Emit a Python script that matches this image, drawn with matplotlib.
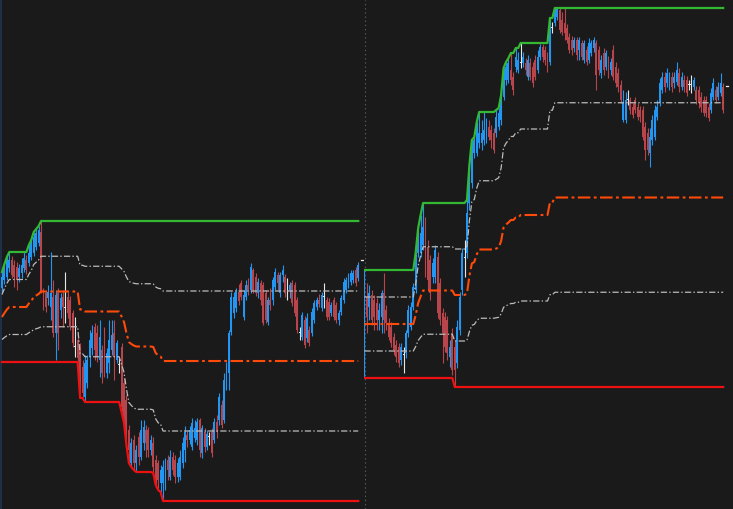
import numpy as np
import matplotlib
matplotlib.use('Agg')
import matplotlib.pyplot as plt
from matplotlib.lines import Line2D

plt.rcParams['lines.scale_dashes'] = False

BG = '#1a1a1a'
UP = '#2196f3'
DOWN = '#b8454b'
DOJI = '#e6e6e6'

# bars as (open, high, low, close)
left_bars = [
    (222, 238, 218, 233), (230, 246, 226, 243), (233, 253, 230, 250), (242, 258, 238, 250),
    (250, 254, 232, 235), (245, 250, 223, 233), (243, 248, 220, 230), (233, 246, 228, 242),
    (237, 252, 232, 245), (242, 258, 238, 252), (250, 255, 236, 240), (247, 265, 244, 257),
    (253, 270, 250, 267), (257, 278, 254, 273), (263, 281, 260, 277), (267, 284, 264, 280),
    (278, 289, 217, 218), (218, 222, 200, 210), (217, 220, 198, 203), (212, 225, 205, 218),
    (203, 258, 190, 217), (213, 230, 173, 177), (177, 220, 150, 215), (217, 222, 160, 177),
    (200, 217, 192, 212), (213, 220, 183, 203), (202, 238, 187, 202), (213, 218, 192, 197),
    (210, 214, 180, 183), (197, 200, 163, 167), (163, 193, 153, 163), (170, 175, 148, 152),
    (163, 167, 112, 120), (143, 150, 113, 117), (113, 155, 108, 147), (127, 155, 122, 150),
    (153, 180, 143, 170), (162, 185, 155, 177), (183, 187, 150, 160), (177, 185, 148, 153),
    (150, 190, 133, 173), (160, 165, 127, 137), (153, 183, 133, 143), (137, 162, 132, 157),
    (147, 190, 137, 170), (160, 190, 155, 175), (177, 190, 130, 153), (150, 170, 147, 167),
    (145, 152, 137, 145), (163, 167, 98, 103), (127, 132, 87, 93), (110, 115, 65, 73),
    (80, 85, 47, 60), (47, 72, 43, 67), (70, 75, 40, 47), (47, 65, 38, 60),
    (73, 78, 45, 53), (53, 90, 50, 80), (67, 90, 60, 83), (80, 85, 53, 67),
    (80, 83, 53, 60), (60, 75, 55, 70), (67, 73, 37, 43), (50, 55, 25, 30),
    (47, 50, 20, 30), (27, 45, 18, 40), (27, 50, 9, 43), (30, 52, 20, 47),
    (50, 55, 30, 40), (33, 60, 30, 53), (53, 58, 35, 40), (50, 55, 27, 33),
    (33, 52, 28, 47), (33, 60, 30, 53), (47, 73, 42, 67), (60, 84, 48, 78),
    (75, 79, 63, 70), (70, 84, 66, 80), (63, 92, 60, 87), (72, 90, 68, 82),
    (70, 92, 65, 88), (90, 92, 53, 60), (57, 85, 52, 82), (78, 82, 58, 63),
    (63, 80, 60, 76), (73, 78, 65, 73), (78, 82, 53, 57), (70, 92, 67, 88),
    (88, 95, 72, 78), (90, 117, 85, 113), (105, 110, 82, 85), (90, 137, 87, 130),
    (123, 148, 120, 143), (137, 180, 120, 177), (178, 218, 175, 213), (197, 218, 192, 213),
    (202, 222, 198, 218), (218, 226, 205, 209), (227, 230, 210, 213), (193, 220, 190, 215),
    (213, 230, 210, 225), (225, 232, 215, 220), (220, 247, 217, 243), (240, 242, 217, 220),
    (233, 237, 214, 217), (217, 232, 212, 228), (227, 230, 205, 210), (225, 228, 185, 187),
    (217, 220, 187, 190), (188, 213, 185, 210), (210, 222, 200, 205), (210, 233, 205, 230),
    (223, 242, 220, 238), (235, 238, 220, 227), (217, 238, 213, 235), (235, 245, 228, 240),
    (233, 236, 213, 217), (220, 232, 210, 220), (220, 228, 212, 225), (227, 230, 204, 207),
    (225, 228, 194, 197), (210, 213, 177, 180), (177, 183, 170, 177), (173, 198, 170, 195),
    (190, 194, 162, 165), (172, 197, 168, 192), (180, 184, 164, 167), (177, 202, 174, 198),
    (190, 210, 187, 207), (203, 213, 200, 210), (210, 216, 203, 206), (202, 218, 199, 215),
    (213, 227, 202, 213), (210, 213, 190, 193), (208, 212, 190, 193), (197, 208, 194, 205),
    (210, 213, 190, 193), (205, 208, 187, 190), (190, 200, 185, 197), (198, 215, 195, 212),
    (210, 232, 207, 228), (220, 233, 217, 230), (225, 237, 222, 234), (228, 240, 225, 237),
    (230, 240, 227, 237), (240, 243, 224, 227), (232, 248, 229, 245),
]
right_bars = [
    (163, 240, 132, 213), (213, 227, 177, 193), (203, 225, 190, 217), (215, 220, 185, 190),
    (210, 215, 180, 193), (207, 212, 180, 190), (190, 207, 180, 200), (193, 220, 177, 217),
    (217, 237, 177, 190), (200, 205, 180, 187), (187, 192, 170, 173), (183, 188, 163, 167),
    (173, 177, 155, 160), (165, 170, 148, 153), (163, 167, 143, 147), (150, 167, 145, 163),
    (155, 163, 137, 155), (157, 180, 152, 177), (177, 205, 173, 200), (183, 208, 180, 203),
    (203, 227, 200, 223), (220, 258, 217, 253), (257, 282, 253, 270), (257, 295, 253, 277),
    (265, 307, 260, 283), (287, 293, 233, 243), (263, 270, 220, 230), (250, 255, 210, 217),
    (233, 252, 227, 247), (233, 265, 227, 260), (253, 258, 192, 197), (227, 232, 185, 190),
    (197, 202, 147, 177), (193, 198, 158, 163), (190, 194, 150, 157), (153, 170, 143, 163),
    (177, 182, 135, 140), (163, 170, 123, 140), (147, 190, 142, 183), (180, 218, 175, 213),
    (220, 262, 215, 257), (252, 270, 233, 252), (257, 310, 252, 297), (307, 345, 300, 337),
    (327, 370, 322, 367), (357, 373, 352, 370), (357, 388, 354, 383), (367, 398, 362, 377),
    (367, 390, 360, 377), (370, 398, 365, 380), (370, 392, 367, 383), (383, 390, 370, 373),
    (380, 385, 362, 370), (377, 382, 357, 360), (377, 400, 373, 393), (383, 402, 380, 397),
    (390, 415, 385, 410), (413, 442, 410, 437), (430, 448, 425, 443), (430, 452, 427, 447),
    (440, 457, 425, 430), (433, 438, 415, 420), (443, 462, 438, 453), (440, 458, 437, 450),
    (447, 467, 442, 447), (447, 458, 443, 453), (447, 452, 435, 440), (433, 455, 430, 450),
    (447, 452, 430, 433), (443, 448, 423, 427), (450, 455, 430, 433), (440, 460, 437, 453),
    (453, 466, 450, 463), (463, 466, 448, 453), (460, 464, 445, 450), (453, 458, 438, 440),
    (448, 492, 445, 487), (482, 488, 477, 482), (487, 502, 484, 500), (493, 502, 490, 502),
    (500, 502, 477, 480), (490, 498, 475, 478), (487, 502, 470, 477), (482, 486, 467, 470),
    (473, 477, 457, 460), (470, 474, 455, 460), (462, 473, 458, 470), (470, 473, 450, 455),
    (460, 473, 450, 470), (467, 470, 450, 453), (450, 470, 447, 467), (460, 464, 445, 448),
    (450, 472, 447, 467), (457, 470, 454, 467), (462, 473, 458, 470), (467, 470, 420, 435),
    (460, 464, 435, 440), (437, 455, 432, 450), (457, 462, 435, 440), (443, 460, 440, 457),
    (450, 454, 432, 437), (440, 452, 435, 448), (460, 465, 430, 433), (443, 448, 423, 427),
    (437, 442, 418, 423), (425, 430, 407, 410), (390, 420, 388, 407), (390, 418, 387, 410),
    (410, 420, 405, 410), (410, 413, 396, 400), (403, 407, 392, 395), (410, 413, 397, 400),
    (403, 407, 390, 393), (400, 404, 388, 393), (400, 404, 370, 373), (383, 388, 350, 360),
    (377, 382, 355, 360), (357, 382, 343, 373), (370, 395, 365, 390), (373, 405, 370, 400),
    (393, 410, 390, 403), (407, 432, 404, 427), (420, 438, 417, 433), (433, 438, 418, 423),
    (427, 442, 423, 437), (423, 438, 420, 433), (433, 438, 418, 423), (427, 438, 422, 433),
    (428, 448, 425, 440), (437, 442, 418, 423), (423, 438, 420, 433), (430, 435, 418, 423),
    (430, 434, 414, 417), (425, 430, 420, 425), (425, 435, 417, 425), (423, 433, 420, 430),
    (420, 424, 406, 410), (420, 424, 402, 407), (413, 418, 398, 403), (410, 414, 394, 397),
    (410, 414, 393, 397), (403, 407, 389, 392), (400, 422, 397, 417), (413, 432, 410, 427),
    (420, 424, 407, 410), (413, 428, 410, 423), (417, 437, 414, 427), (423, 427, 397, 400),
]
# channel low carried in from before the visible left range
left_prior_low = 148
# current-price ticks at the right end of each session
left_last_tick = 250
right_last_tick = 424

BAR_PX = 2.44   # pixels per bar


def channel(bars, prior_low=None):
    highs = np.array([b[1] for b in bars], float)
    lows = np.array([b[2] for b in bars], float)
    upper = np.maximum.accumulate(highs)
    lower = np.minimum.accumulate(lows)
    if prior_low is not None:
        lower = np.minimum(lower, prior_low)
    rng = upper - lower
    return upper, lower + 0.75 * rng, lower + 0.5 * rng, lower + 0.25 * rng, lower


def draw_panel(ax, bars, tick, prior_low=None):
    o, h, l, c = (np.array(v, float) for v in zip(*bars))
    x = np.arange(len(bars))
    colors = np.where(c > o, UP, np.where(c < o, DOWN, DOJI))
    ax.vlines(x, l, h, colors=colors, lw=0.8, zorder=2)
    ax.bar(x, np.maximum(np.abs(c - o), 1.0), bottom=np.minimum(o, c),
           width=0.78, color=colors, lw=0, zorder=2)

    upper, q3, mid, q1, lower = channel(bars, prior_low)
    ax.plot(x, upper, color='#33b833', lw=1.6, zorder=4)
    ax.plot(x, lower, color='#ee1111', lw=1.6, zorder=4)
    ax.plot(x, mid, color='#ff4a0a', lw=1.5, dashes=(9, 2.5, 2, 2.5), zorder=4)
    for q in (q3, q1):
        ax.plot(x, q, color='#bcbcbc', lw=0.9, dashes=(4.5, 1.6, 1, 1.6), zorder=4)
    ax.plot([x[-1] + 1.0, x[-1] + 1.8], [tick, tick], color='#f0f0f0', lw=0.9, zorder=5)

    ax.set_facecolor('none')
    ax.set_ylim(1, 510)
    for s in ax.spines.values():
        s.set_visible(False)
    ax.set_xticks([])
    ax.set_yticks([])


fig = plt.figure(figsize=(7.33, 5.09), dpi=100, facecolor=BG)
W = 733.0
ax_l = fig.add_axes([0, 0, 364 / W, 1])
ax_r = fig.add_axes([364 / W, 0, 369 / W, 1])
draw_panel(ax_l, left_bars, left_last_tick, left_prior_low)
draw_panel(ax_r, right_bars, right_last_tick)
ax_l.set_xlim(-0.82, -0.82 + 364 / BAR_PX)
ax_r.set_xlim(-0.2, -0.2 + 369 / BAR_PX)

# period separator and left border
fig.add_artist(Line2D([364.5 / W] * 2, [0, 1], transform=fig.transFigure,
                      color='#5a5a5a', lw=0.8, ls=(0, (1, 2)), zorder=-1))
fig.add_artist(Line2D([0.6 / W] * 2, [0, 1], transform=fig.transFigure,
                      color='#22344e', lw=1.2, zorder=-1))

fig.savefig('out.png', dpi=100, facecolor=BG)
